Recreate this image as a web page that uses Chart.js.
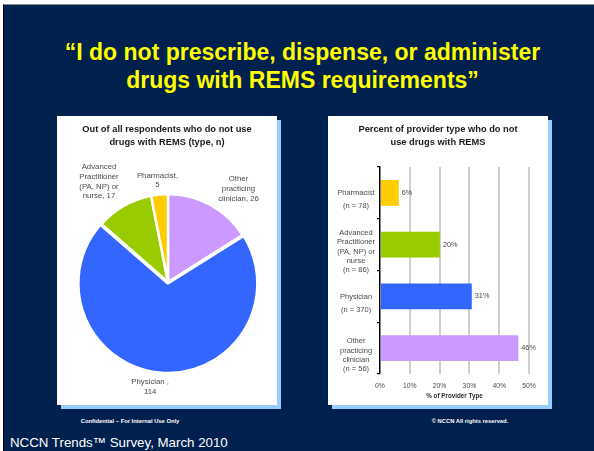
<!DOCTYPE html>
<html>
<head>
<meta charset="utf-8">
<script src="https://cdn.jsdelivr.net/npm/chart.js@4.4.1/dist/chart.umd.min.js"></script>
<style>
  html, body { margin: 0; padding: 0; background: #ffffff; }
  body { width: 594px; height: 451px; position: relative; overflow: hidden; font-family: "Liberation Sans", Arial, sans-serif; }
  #slide { position: absolute; left: 3px; top: 4px; right: 0; bottom: 0; background: #00204e; border-left: 1px solid #000; border-top: 1px solid #8a8a8a; }
  #title { position: absolute; left: 0; top: 38px; width: 605px; text-align: center; color: #ffff00; font: bold 23px "Liberation Sans", Arial, sans-serif; line-height: 28px; }
  .panel { position: absolute; top: 116px; width: 220px; height: 289px; background: #ffffff; box-shadow: 4px 4px 0 #99ccff; }
  .panel canvas { position: absolute; left: 0; top: 0; }
  .ptitle { position: absolute; left: 0; top: 7px; width: 220px; text-align: center; color: #1a1a1a; font: bold 9.3px "Liberation Sans", Arial, sans-serif; line-height: 13px; }
  .foot { position: absolute; color: #ffffff; font: bold 5.8px "Liberation Sans", Arial, sans-serif; white-space: nowrap; transform: translateX(-50%); }
  #source { position: absolute; left: 10px; top: 435px; color: #ffffff; font: 13.3px "Liberation Sans", Arial, sans-serif; white-space: nowrap; }
</style>
</head>
<body>
<div id="slide"></div>
<div id="title">“I do not prescribe, dispense, or administer<br>drugs with REMS requirements”</div>

<div class="panel" style="left:57px;">
  <canvas id="pie" width="220" height="289"></canvas>
  <div class="ptitle">Out of all respondents who do not use<br>drugs with REMS (type, n)</div>
</div>

<div class="panel" style="left:328px;">
  <canvas id="bar" width="220" height="289"></canvas>
  <div class="ptitle">Percent of provider type who do not<br>use drugs with REMS</div>
</div>

<div class="foot" style="left:130px; top:418px;">Confidential – For Internal Use Only</div>
<div class="foot" style="left:470px; top:418px;">© NCCN All rights reserved.</div>
<div id="source">NCCN Trends™ Survey, March 2010</div>

<script>
// ---- Pie data: respondents who do not use drugs with REMS (type, n) ----
const pieCategories = ["Other practicing clinician", "Physician", "Advanced Practitioner (PA, NP) or nurse", "Pharmacist"];
const pieLabelLines = [
  ["Other", "practicing", "clinician, 26"],
  ["Physician ,", "114"],
  ["Advanced", "Practitioner", "(PA, NP) or", "nurse, 17"],
  ["Pharmacist,", "5"]
];
const pieCounts = [26, 114, 17, 5];

// ---- Bar data: percent of provider type who do not use drugs with REMS ----
const barCategories = [
  ["Pharmacist", "(n = 78)"],
  ["Advanced", "Practitioner", "(PA, NP) or", "nurse", "(n = 86)"],
  ["Physician", "(n = 370)"],
  ["Other", "practicing", "clinician", "(n = 56)"]
];
const barPercents = [6.3, 20.1, 30.8, 46.4];
const xTickValues = [0, 10, 20, 30, 40, 50];

const FONT = '"Liberation Sans", Arial, sans-serif';
const sliceColors = ["#cc99ff", "#3366ff", "#99cc00", "#ffcc00"];

// label placement relative to each slice's outer mid-point
const pieLabelNudge = [[28, -16], [-11, 17], [-25, -24], [-2, -14]];

const pieLabelPlugin = {
  id: 'pieLabels',
  afterDraw(chart) {
    const ctx = chart.ctx;
    const meta = chart.getDatasetMeta(0);
    ctx.save();
    ctx.fillStyle = '#4a4a4a';
    ctx.font = '7.8px ' + FONT;
    ctx.textAlign = 'center';
    ctx.textBaseline = 'middle';
    meta.data.forEach((arc, i) => {
      const p = arc.getProps(['x', 'y', 'startAngle', 'endAngle', 'outerRadius'], true);
      const mid = (p.startAngle + p.endAngle) / 2;
      const ax = p.x + Math.cos(mid) * p.outerRadius + pieLabelNudge[i][0];
      const ay = p.y + Math.sin(mid) * p.outerRadius + pieLabelNudge[i][1];
      const lines = pieLabelLines[i];
      const lh = 9.7;
      const y0 = ay - (lines.length - 1) * lh / 2;
      lines.forEach((t, k) => ctx.fillText(t, ax, y0 + k * lh));
    });
    ctx.restore();
  }
};

new Chart(document.getElementById('pie'), {
  type: 'pie',
  data: {
    labels: pieCategories,
    datasets: [{
      data: pieCounts,
      backgroundColor: sliceColors,
      borderColor: '#ffffff',
      borderWidth: 2.5,
      offset: [0, 6, 0, 0]
    }]
  },
  options: {
    responsive: false,
    animation: false,
    radius: 88,
    layout: { padding: { left: 12, right: 10, top: 60, bottom: 17 } },
    plugins: { legend: { display: false }, tooltip: { enabled: false }, title: { display: false } }
  },
  plugins: [pieLabelPlugin]
});

const barValueLabels = {
  id: 'barValueLabels',
  afterDatasetsDraw(chart) {
    const ctx = chart.ctx;
    const meta = chart.getDatasetMeta(0);
    ctx.save();
    ctx.fillStyle = '#4a4a4a';
    ctx.font = '7.3px ' + FONT;
    ctx.textAlign = 'left';
    ctx.textBaseline = 'middle';
    meta.data.forEach((bar, i) => {
      ctx.fillText(Math.round(barPercents[i]) + '%', bar.x + 3, bar.y);
    });
    ctx.restore();
  }
};

new Chart(document.getElementById('bar'), {
  type: 'bar',
  data: {
    labels: barCategories,
    datasets: [{
      data: barPercents,
      backgroundColor: sliceColors.slice().reverse(),
      borderWidth: 0,
      barPercentage: 0.5,
      categoryPercentage: 1
    }]
  },
  options: {
    indexAxis: 'y',
    responsive: false,
    animation: false,
    layout: { padding: { left: 0, right: 19, top: 51, bottom: 0 } },
    plugins: { legend: { display: false }, tooltip: { enabled: false } },
    scales: {
      x: {
        min: 0, max: 50,
        afterBuildTicks: (scale) => { scale.ticks = xTickValues.map(v => ({ value: v })); },
        afterFit: (scale) => { scale.height = 31; },
        border: { display: false },
        grid: {
          drawTicks: false,
          lineWidth: 2,
          color: (c) => c.index === 0 ? 'rgba(0,0,0,0)' : '#cfcfcf'
        },
        ticks: {
          padding: 8,
          color: '#4a4a4a',
          font: { size: 6.8, family: FONT },
          callback: (v) => v + '%'
        },
        title: {
          display: true,
          text: '% of Provider Type',
          color: '#2a2a2a',
          font: { size: 6.3, family: FONT, weight: 'bold' },
          padding: { top: 0, bottom: 5 }
        }
      },
      y: {
        afterFit: (scale) => { scale.width = 52; },
        border: { display: true, color: '#000000', width: 1.5 },
        grid: {
          offset: true,
          drawOnChartArea: false,
          drawTicks: true,
          tickLength: 3,
          color: '#000000',
          lineWidth: 1.2
        },
        ticks: {
          padding: 2,
          crossAlign: 'center',
          labelOffset: 7,
          color: '#4a4a4a',
          font: (c) => ({
            size: 7.5,
            family: FONT,
            lineHeight: (barCategories[c.index] && barCategories[c.index].length === 2) ? 1.73 : 1.24
          })
        }
      }
    }
  },
  plugins: [barValueLabels]
});
</script>
</body>
</html>
